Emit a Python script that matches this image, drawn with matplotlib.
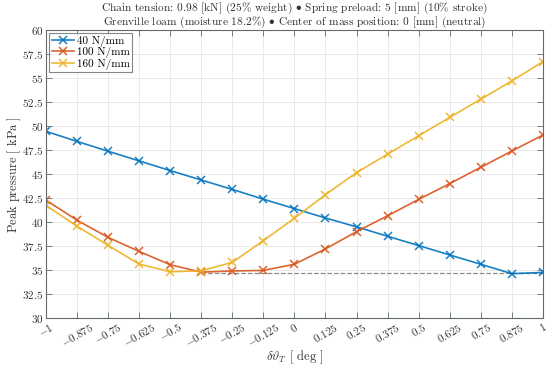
import numpy as np
import matplotlib
matplotlib.use("Agg")
import matplotlib.pyplot as plt

plt.rcParams['font.family'] = 'serif'
plt.rcParams['font.serif'] = ['cmr10', 'DejaVu Serif']
plt.rcParams['mathtext.fontset'] = 'cm'
plt.rcParams['axes.formatter.use_mathtext'] = True

# Verschiebung in Grad
dtheta = [-1, -0.875, -0.75, -0.625, -0.5, -0.375, -0.25, -0.125, 0,
          0.125, 0.25, 0.375, 0.5, 0.625, 0.75, 0.875, 1]

# Spitzendruck je Federsteifigkeit
p_40 = [49.45, 48.4, 47.38, 46.37, 45.36, 44.38, 43.4, 42.38, 41.4,
        40.42, 39.5, 38.52, 37.55, 36.57, 35.6, 34.62, 34.75]
p_100 = [42.28, 40.19, 38.4, 36.94, 35.55, 34.78, 34.9, 34.96, 35.6,
         37.2, 39.0, 40.65, 42.36, 44.0, 45.7, 47.4, 49.06]
p_160 = [41.73, 39.56, 37.57, 35.62, 34.82, 34.92, 35.8, 38.06, 40.4,
         42.85, 45.15, 47.07, 48.99, 50.9, 52.8, 54.7, 56.7]

series_labels = ['40 N/mm', '100 N/mm', '160 N/mm']
colors = ['#0072BD', '#D95319', '#EDB120']

# Minimum (gestrichelte Linie)
min_x = [-0.375, 1]
min_level = 34.7

xticks = dtheta
xtick_labels = ['$-1$', '$-0.875$', '$-0.75$', '$-0.625$', '$-0.5$', '$-0.375$',
                '$-0.25$', '$-0.125$', '$0$', '$0.125$', '$0.25$', '$0.375$',
                '$0.5$', '$0.625$', '$0.75$', '$0.875$', '$1$']
yticks = [30, 32.5, 35, 37.5, 40, 42.5, 45, 47.5, 50, 52.5, 55, 57.5, 60]
ytick_labels = ['$30$', '$32.5$', '$35$', '$37.5$', '$40$', '$42.5$', '$45$',
                '$47.5$', '$50$', '$52.5$', '$55$', '$57.5$', '$60$']

title_1 = 'Chain tension: 0.98 [kN] (25% weight) $\\bullet$ Spring preload: 5 [mm] (10% stroke)'
title_2 = 'Grenville loam (moisture 18.2%) $\\bullet$ Center of mass position: 0 [mm] (neutral)'

fig = plt.figure(figsize=(5.5, 3.67), dpi=100)
ax = fig.add_axes([0.0836, 0.1335, 0.9034, 0.7845])

ax.plot(min_x, [min_level, min_level], linestyle='--', color='0.55', linewidth=0.9, zorder=1)

for vals, lab, c in zip([p_40, p_100, p_160], series_labels, colors):
    ax.plot(dtheta, vals, color=c, marker='x', markersize=5.5, linewidth=1.2,
            markeredgewidth=1.1, label=lab, alpha=0.9, zorder=2)

ax.set_xlim(-1, 1)
ax.set_ylim(30, 60)
ax.set_xticks(xticks)
ax.set_xticklabels(xtick_labels, rotation=30, fontsize=8)
ax.set_yticks(yticks)
ax.set_yticklabels(ytick_labels, fontsize=8)
ax.grid(True, color='0.9', linewidth=0.6)
ax.set_axisbelow(True)

axcol = '#5f6b70'
for s in ax.spines.values():
    s.set_color(axcol)
    s.set_linewidth(0.8)
ax.tick_params(direction='in', top=True, right=True, colors=axcol,
               labelcolor='#333333', length=4, width=0.6, pad=2)

ax.set_xlabel(r'$\delta\vartheta_T$ $[$ deg $]$', fontsize=9, color='#333333', labelpad=0)
ax.set_ylabel(r'Peak pressure $[$ kPa $]$', fontsize=9, color='#333333', labelpad=-1)

# Titel in zwei Zeilen
fig.text(0.5 * (0.0836 + 0.987), 0.977, title_1, ha='center', va='center',
         fontsize=8.2, color='#333333')
fig.text(0.5 * (0.0836 + 0.987), 0.938, title_2, ha='center', va='center',
         fontsize=8.2, color='#333333')

leg = ax.legend(loc='upper left', fontsize=8, frameon=True, fancybox=False,
                borderpad=0.2, handlelength=2.0, handletextpad=0.3,
                labelspacing=0.05, borderaxespad=0.3)
leg.get_frame().set_edgecolor(axcol)
leg.get_frame().set_linewidth(0.8)

fig.savefig('out.png', dpi=100)
